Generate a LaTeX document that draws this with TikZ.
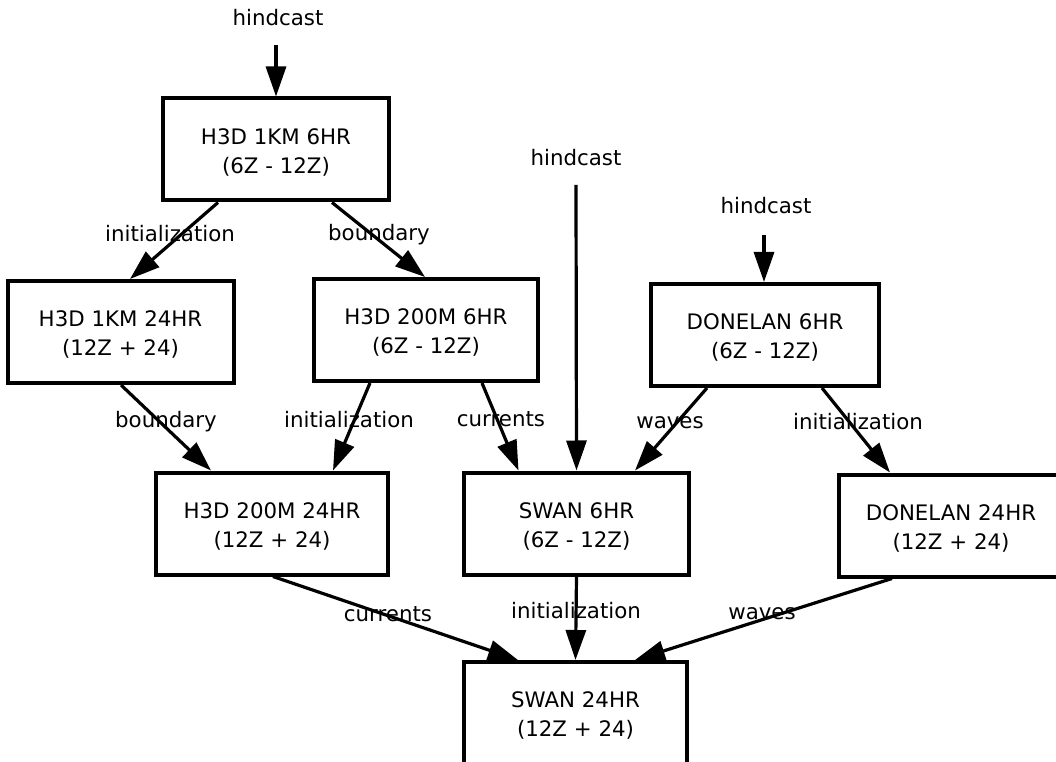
\documentclass[tikz,border=0pt]{standalone}
\usepackage{fontspec}
\setmainfont{DejaVu Sans}
\usetikzlibrary{arrows.meta,calc}
\newcommand{\topstrut}{\rule{0pt}{16pt}}
\begin{document}
\begin{tikzpicture}[x=0.75pt,y=-0.75pt,
  box/.style={draw,line width=3pt,rectangle,minimum height=76.5pt,inner sep=0pt,
    align=center,font=\fontsize{16pt}{21.75pt}\selectfont},
  edge/.style={line width=2.4pt,-{Triangle[length=22.5pt,width=15pt]}},
  lab/.style={anchor=base,inner sep=0pt,font=\fontsize{16pt}{19pt}\selectfont}]
\useasboundingbox (0,0) rectangle (1056,762);
% nodes
\node[box,minimum width=169.5pt] (n1) at (276,149.5) {\topstrut H3D 1KM 6HR\\(6Z - 12Z)};
\node[box,minimum width=169.5pt] (n2) at (120.5,332) {\topstrut H3D 1KM 24HR\\(12Z + 24)};
\node[box,minimum width=168pt] (n3) at (426,330) {\topstrut H3D 200M 6HR\\(6Z - 12Z)};
\node[box,minimum width=171pt] (n4) at (765,335) {\topstrut DONELAN 6HR\\(6Z - 12Z)};
\node[box,minimum width=174pt] (n5) at (272,523.5) {\topstrut H3D 200M 24HR\\(12Z + 24)};
\node[box,minimum width=168.75pt] (n6) at (576.5,523.5) {\topstrut SWAN 6HR\\(6Z - 12Z)};
\node[box,minimum width=168pt] (n7) at (951,525.5) {\topstrut DONELAN 24HR\\(12Z + 24)};
\node[box,minimum width=167.25pt] (n8) at (575.5,713) {\topstrut SWAN 24HR\\(12Z + 24)};
% hindcast labels
\node[lab] (h1) at (278,26) {hindcast};
\node[lab] (h2) at (576,166) {hindcast};
\node[lab] (h3) at (766,214) {hindcast};
\coordinate (h1s) at (276,45);
\coordinate (h2s) at (576,185);
\coordinate (h3s) at (764,235);
% edges
\draw[edge] (h1s) -- (n1.north);
\draw[edge] (h2s) -- (n6.north);
\draw[edge] (h3s) -- ($(n4.north)+(-1,0)$);
\draw[edge] ($(n1.south)+(-58,0)$) -- ($(n2.north)+(9.5,0)$);
\draw[edge] ($(n1.south)+(56,0)$) -- ($(n3.north)+(-1,0)$);
\draw[edge] ($(n2.south)+(0.5,0)$) -- ($(n5.north)+(-61,0)$);
\draw[edge] ($(n3.south)+(-56,0)$) -- ($(n5.north)+(61,0)$);
\draw[edge] ($(n3.south)+(56,0)$) -- ($(n6.north)+(-58,0)$);
\draw[edge] ($(n4.south)+(-58,0)$) -- ($(n6.north)+(58.5,0)$);
\draw[edge] ($(n4.south)+(57,0)$) -- ($(n7.north)+(-61,0)$);
\draw[edge] ($(n5.south)+(1,0)$) -- ($(n8.north)+(-57.5,0)$);
\draw[edge] (n6.south) -- (n8.north);
\draw[edge] ($(n7.south)+(-59,0)$) -- ($(n8.north)+(59.5,0)$);
% edge labels
\node[lab] (l1) at (170,242) {initialization};
\node[lab] (l2) at (379,241) {boundary};
\node[lab] (l3) at (166,428) {boundary};
\node[lab] (l4) at (349,428) {initialization};
\node[lab] (l5) at (501,427) {currents};
\node[lab] (l6) at (670,429) {waves};
\node[lab] (l7) at (858,430) {initialization};
\node[lab] (l8) at (388,621) {currents};
\node[lab] (l9) at (576,618) {initialization};
\node[lab] (l10) at (762,619) {waves};
\end{tikzpicture}
\end{document}
